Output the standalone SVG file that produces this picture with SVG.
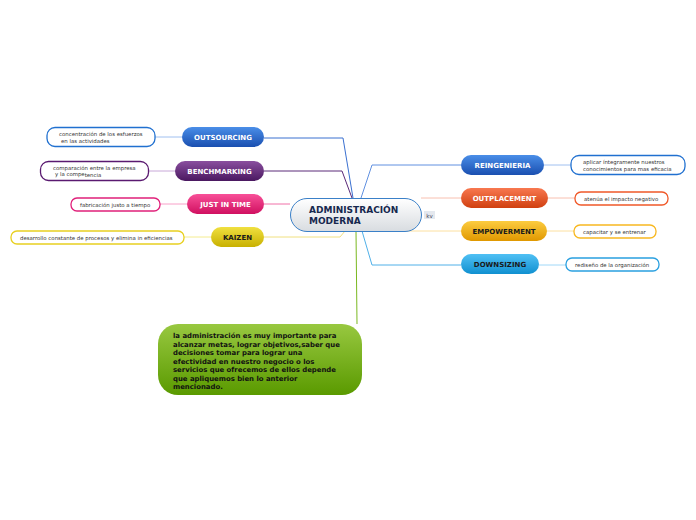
<svg xmlns="http://www.w3.org/2000/svg" width="696" height="520" viewBox="0 0 696 520">
<defs>
<linearGradient id="gBlue" x1="0" y1="0" x2="0" y2="1"><stop offset="0" stop-color="#4a8ee8"/><stop offset="1" stop-color="#1a4fb0"/></linearGradient>
<linearGradient id="gPurple" x1="0" y1="0" x2="0" y2="1"><stop offset="0" stop-color="#8a4f9f"/><stop offset="1" stop-color="#4a1860"/></linearGradient>
<linearGradient id="gPink" x1="0" y1="0" x2="0" y2="1"><stop offset="0" stop-color="#f85098"/><stop offset="1" stop-color="#d01060"/></linearGradient>
<linearGradient id="gYellow" x1="0" y1="0" x2="0" y2="1"><stop offset="0" stop-color="#f0e040"/><stop offset="1" stop-color="#c8b000"/></linearGradient>
<linearGradient id="gOrange" x1="0" y1="0" x2="0" y2="1"><stop offset="0" stop-color="#f87850"/><stop offset="1" stop-color="#d04010"/></linearGradient>
<linearGradient id="gGold" x1="0" y1="0" x2="0" y2="1"><stop offset="0" stop-color="#fccc40"/><stop offset="1" stop-color="#e09800"/></linearGradient>
<linearGradient id="gSky" x1="0" y1="0" x2="0" y2="1"><stop offset="0" stop-color="#50c0f4"/><stop offset="1" stop-color="#1090d0"/></linearGradient>
<linearGradient id="gGreen" x1="0" y1="0" x2="0" y2="1"><stop offset="0" stop-color="#98c840"/><stop offset="1" stop-color="#5a9a00"/></linearGradient>
<linearGradient id="gCenter" x1="0" y1="0" x2="0" y2="1"><stop offset="0" stop-color="#ffffff"/><stop offset="1" stop-color="#d8dce0"/></linearGradient>
</defs>
<style>
.lbl{font-family:"DejaVu Sans",Verdana,sans-serif;font-weight:bold;font-size:7px;text-anchor:middle}
.w{fill:#ffffff}
.d{fill:#1a1a1a}
.leaf{fill:#ffffff;stroke-width:1.3}
.lt{font-family:"DejaVu Sans",Verdana,sans-serif;font-size:5.4px;fill:#333333}
.con{fill:none;stroke-width:1}
</style>
<g id="connectors">
<path class="con" stroke="#3a70d0" d="M353,198 L343,138 L264,138"/>
<path class="con" stroke="#5a2a78" d="M352,198 L342,171 L264,171"/>
<path class="con" stroke="#f070a8" d="M290,204 L264,204"/>
<path class="con" stroke="#f0e080" d="M345,231 L340,237 L264,237"/>
<path class="con" stroke="#6090e0" d="M361,198 L372,165 L461,165"/>
<path class="con" stroke="#f8c0b0" d="M421,198 L461,198"/>
<path class="con" stroke="#fce0a0" d="M372,231 L461,231"/>
<path class="con" stroke="#50b0e8" d="M362,231 L372,265 L461,265"/>
<path class="con" stroke="#7ab820" stroke-width="1.5" d="M356,231 L357,324"/>
<path class="con" stroke="#a0c0f0" d="M182,137 L155,137"/>
<path class="con" stroke="#c8a8d8" d="M175,171 L149,171"/>
<path class="con" stroke="#f8a0c8" d="M187,204 L160,204"/>
<path class="con" stroke="#f4ec90" d="M211,237 L184,237"/>
<path class="con" stroke="#a0c0f0" d="M544,165 L571,165"/>
<path class="con" stroke="#f8c0b0" d="M548,198 L575,198"/>
<path class="con" stroke="#fce0a0" d="M547,231 L574,231"/>
<path class="con" stroke="#a0d8f8" d="M539,265 L566,265"/>
</g>
<g id="center">
<rect x="290.5" y="198.5" width="131" height="33" rx="16.5" fill="url(#gCenter)" stroke="#3a80c8" stroke-width="1"/>
<text x="309" y="213" font-family="DejaVu Sans,Verdana,sans-serif" font-weight="bold" font-size="9" fill="#16284e">ADMINISTRACIÓN</text>
<text x="309" y="224" font-family="DejaVu Sans,Verdana,sans-serif" font-weight="bold" font-size="9" fill="#16284e">MODERNA</text>
</g>
<g id="kv">
<rect x="424" y="211" width="11" height="8" fill="#e4e8ee"/>
<text x="429.5" y="217.5" font-family="DejaVu Sans,Verdana,sans-serif" font-size="5.5" fill="#445" text-anchor="middle">kv</text>
</g>
<g id="outsourcing">
<rect x="182" y="127" width="82" height="20" rx="10" fill="url(#gBlue)"/>
<text class="lbl w" x="223" y="140">OUTSOURCING</text>
</g>
<g id="benchmarking">
<rect x="175" y="161" width="89" height="20" rx="10" fill="url(#gPurple)"/>
<text class="lbl w" x="219.5" y="174">BENCHMARKING</text>
</g>
<g id="justintime">
<rect x="187" y="194" width="77" height="20" rx="10" fill="url(#gPink)"/>
<text class="lbl w" x="225.5" y="207">JUST IN TIME</text>
</g>
<g id="kaizen">
<rect x="211" y="227" width="53" height="20" rx="10" fill="url(#gYellow)"/>
<text class="lbl d" x="237.5" y="240">KAIZEN</text>
</g>
<g id="reingenieria">
<rect x="461" y="155" width="83" height="20" rx="10" fill="url(#gBlue)"/>
<text class="lbl w" x="502.5" y="168">REINGENIERIA</text>
</g>
<g id="outplacement">
<rect x="461" y="188" width="87" height="20" rx="10" fill="url(#gOrange)"/>
<text class="lbl w" x="504.5" y="201">OUTPLACEMENT</text>
</g>
<g id="empowerment">
<rect x="461" y="221" width="86" height="20" rx="10" fill="url(#gGold)"/>
<text class="lbl d" x="504" y="234">EMPOWERMENT</text>
</g>
<g id="downsizing">
<rect x="461" y="254" width="78" height="20" rx="10" fill="url(#gSky)"/>
<text class="lbl d" x="500" y="267">DOWNSIZING</text>
</g>
<g id="leaf-outsourcing">
<rect class="leaf" x="47" y="127.5" width="108" height="19" rx="8" stroke="#2070d0"/>
<text class="lt" x="59" y="135.5">concentración de los esfuerzos</text>
<text class="lt" x="61" y="142.5">en las actividades</text>
</g>
<g id="leaf-benchmarking">
<rect class="leaf" x="40.5" y="161.5" width="108" height="19" rx="8" stroke="#5a1a70"/>
<text class="lt" x="53" y="169.5">comparación entre la empresa</text>
<text class="lt" x="55" y="176">y la compe<tspan dy="1">tencia</tspan></text>
</g>
<g id="leaf-justintime">
<rect class="leaf" x="71" y="198" width="89" height="13" rx="6" stroke="#e0207a"/>
<text class="lt" x="80" y="206.5">fabricación justo a tiempo</text>
</g>
<g id="leaf-kaizen">
<rect class="leaf" x="11" y="231" width="173" height="13" rx="6" stroke="#e8d020"/>
<text class="lt" x="20" y="239.5">desarrollo constante de procesos y elimina in eficiencias</text>
</g>
<g id="leaf-reingenieria">
<rect class="leaf" x="571" y="155.5" width="114" height="19" rx="8" stroke="#2070d0"/>
<text class="lt" x="583" y="163.5">aplicar íntegramente nuestros</text>
<text class="lt" x="583" y="170.5">conocimientos para mas eficacia</text>
</g>
<g id="leaf-outplacement">
<rect class="leaf" x="575" y="192" width="93" height="13" rx="6" stroke="#f05828"/>
<text class="lt" x="584" y="200.5">atenúa el impacto negativo</text>
</g>
<g id="leaf-empowerment">
<rect class="leaf" x="574" y="225" width="82" height="13" rx="6" stroke="#f8b820"/>
<text class="lt" x="583" y="233.5">capacitar y se entrenar</text>
</g>
<g id="leaf-downsizing">
<rect class="leaf" x="566" y="258" width="93" height="13" rx="6" stroke="#2aa0e0"/>
<text class="lt" x="575" y="266.5">rediseño de la organización</text>
</g>
<g id="note">
<rect x="158" y="324" width="204" height="71" rx="20" fill="url(#gGreen)"/>
<g font-family="DejaVu Sans,Verdana,sans-serif" font-weight="bold" font-size="6.9" fill="#111111">
<text x="173" y="338">la administración es muy importante para</text>
<text x="173" y="346.5">alcanzar metas, lograr objetivos,saber que</text>
<text x="173" y="355">decisiones tomar para lograr una</text>
<text x="173" y="363.5">efectividad en nuestro negocio o los</text>
<text x="173" y="372">servicios que ofrecemos de ellos depende</text>
<text x="173" y="380.5">que apliquemos bien lo anterior</text>
<text x="173" y="389">mencionado.</text>
</g>
</g>
</svg>
